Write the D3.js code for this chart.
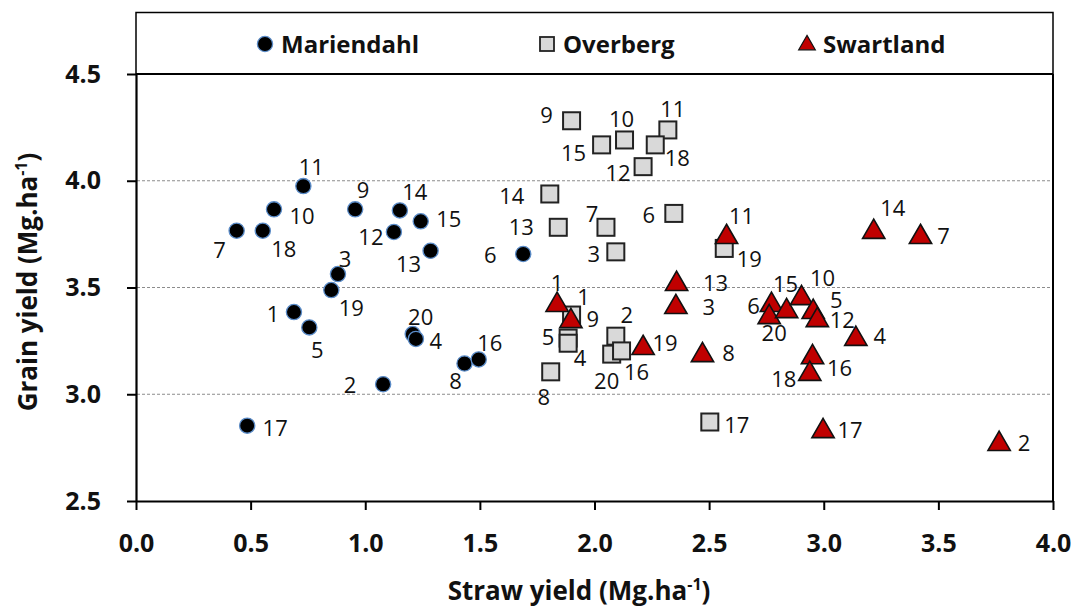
<!DOCTYPE html>
<html>
<head>
<meta charset="utf-8">
<script src="https://cdn.jsdelivr.net/npm/d3@7"></script>
<style>
  html, body { margin: 0; padding: 0; background: #fff; }
  svg { display: block; font-family: "Open Sans", "DejaVu Sans", sans-serif; }
</style>
</head>
<body>
<div id="main"></div>
<script>
// straw yield (x) and grain yield (y), Mg/ha, per cultivar id
const marIds   = [11, 10, 7, 18, 9, 14, 15, 12, 13, 3, 19, 1, 5, 20, 4, 8, 16, 2, 17, 6];
const marStraw = [0.730, 0.602, 0.439, 0.553, 0.956, 1.151, 1.242, 1.125, 1.285, 0.881, 0.852, 0.689, 0.756, 1.207, 1.221, 1.433, 1.495, 1.078, 0.485, 1.689];
const marGrain = [3.975, 3.866, 3.766, 3.766, 3.866, 3.861, 3.810, 3.760, 3.672, 3.563, 3.488, 3.385, 3.313, 3.282, 3.259, 3.144, 3.163, 3.047, 2.853, 3.657];

const ovbIds   = [9, 10, 11, 15, 18, 12, 14, 13, 7, 6, 3, 19, 1, 5, 4, 8, 2, 20, 16, 17];
const ovbStraw = [1.900, 2.131, 2.320, 2.031, 2.265, 2.212, 1.805, 1.842, 2.050, 2.346, 2.093, 2.566, 1.900, 1.885, 1.885, 1.809, 2.093, 2.075, 2.118, 2.503];
const ovbGrain = [4.281, 4.191, 4.238, 4.168, 4.168, 4.066, 3.938, 3.782, 3.782, 3.847, 3.667, 3.683, 3.371, 3.263, 3.239, 3.105, 3.272, 3.188, 3.203, 2.870];

const swtIds   = [1, 9, 19, 13, 3, 8, 11, 14, 7, 6, 20, 15, 10, 5, 12, 4, 16, 18, 17, 2];
const swtStraw = [1.837, 1.897, 2.212, 2.358, 2.355, 2.471, 2.576, 3.218, 3.422, 2.772, 2.762, 2.838, 2.903, 2.954, 2.972, 3.140, 2.951, 2.939, 2.997, 3.765];
const swtGrain = [3.418, 3.342, 3.216, 3.516, 3.408, 3.183, 3.736, 3.760, 3.736, 3.418, 3.361, 3.389, 3.450, 3.385, 3.347, 3.259, 3.173, 3.095, 2.827, 2.767];

const seriesNames = ['Mariendahl', 'Overberg', 'Swartland'];
const xTicks = [0, 0.5, 1, 1.5, 2, 2.5, 3, 3.5, 4];
const yTicks = [2.5, 3, 3.5, 4, 4.5];
const gridVals = [3, 3.5, 4];

// hand placed data-label offsets (px), same order as the ids above
const marLab = [[8,-19],[28,7],[-17,19],[21,18],[8,-19],[15,-18],[28,-2],[-23,5],[-22,13],[7,-15],[20,18],[-21,2],[8,23],[8,-17],[20,2],[-9,18],[11,-16],[-33,1],[28,2],[-33,1]];
const ovbLab = [[-25,-6],[-3,-21],[5,-21],[-28,8],[22,13],[-25,6],[-38,2],[-37,0],[-14,-13],[-25,2],[-22,2],[25,11],[12,-18],[-20,-1],[12,15],[-7,25],[11,-21],[-5,27],[15,21],[27,3]];
const swtLab = [[0,-22],[22,-2],[22,-5],[39,-1],[33,0],[26,-2],[15,-21],[19,-24],[23,-1],[-18,1],[5,16],[-1,-27],[21,-20],[23,-12],[25,0],[24,-3],[27,11],[-26,5],[27,-1],[25,-1]];

const width = 1078, height = 610;
const margin = { top: 74, right: 25, bottom: 109, left: 136 };

const sx = d3.scaleLinear().domain([0, 4]).range([margin.left, width - margin.right]);
const sy = d3.scaleLinear().domain([2.5, 4.5]).range([height - margin.bottom, margin.top]);

const svg = d3.select('#main').append('svg')
  .attr('width', width).attr('height', height)
  .attr('viewBox', [0, 0, width, height]);

const [x0, x1] = sx.range(), [y0, y1] = sy.range();

// gridlines
svg.append('g').selectAll('line').data(gridVals).join('line')
  .attr('x1', x0 + 1).attr('x2', x1 - 1)
  .attr('y1', d => sy(d)).attr('y2', d => sy(d))
  .attr('stroke', '#8c8c8c').attr('stroke-width', 1)
  .attr('stroke-dasharray', '3,2');

// legend box
svg.append('rect')
  .attr('x', x0).attr('y', 12.5).attr('width', x1 - x0).attr('height', y1 - 12.5)
  .attr('fill', 'none').attr('stroke', '#000').attr('stroke-width', 1.5);

// frame top / right
svg.append('line').attr('x1', x0).attr('x2', x1).attr('y1', y1).attr('y2', y1)
  .attr('stroke', '#000').attr('stroke-width', 2);
svg.append('line').attr('x1', x1).attr('x2', x1).attr('y1', y1).attr('y2', y0)
  .attr('stroke', '#000').attr('stroke-width', 2);

// axes
const ax = d3.axisBottom(sx).tickValues(xTicks).tickFormat(d3.format('.1f'))
  .tickSize(9).tickSizeOuter(0).tickPadding(18);
const ay = d3.axisLeft(sy).tickValues(yTicks).tickFormat(d3.format('.1f'))
  .tickSize(9).tickSizeOuter(0).tickPadding(26);

const gx = svg.append('g').attr('transform', `translate(0,${y0})`).call(ax);
const gy = svg.append('g').attr('transform', `translate(${x0},0)`).call(ay);
[gx, gy].forEach(g => {
  g.select('.domain').attr('stroke', '#000').attr('stroke-width', 2.2);
  g.selectAll('.tick line').attr('stroke', '#000').attr('stroke-width', 2);
  g.selectAll('.tick text')
    .attr('fill', '#111')
    .style('font-family', '"Open Sans", sans-serif')
    .style('font-size', '25px').style('font-weight', 700);
});
gx.selectAll('.tick text').attr('dy', '0.95em');

// axis titles
const xt = svg.append('text')
  .attr('x', 579).attr('y', 600)
  .attr('text-anchor', 'middle')
  .style('font-size', '26px').style('font-weight', 700).attr('fill', '#111');
xt.append('tspan').text('Straw yield (Mg.ha');
xt.append('tspan').attr('dy', -10).style('font-size', '16px').text('-1');
xt.append('tspan').attr('dy', 10).text(')');

const yt = svg.append('text')
  .attr('transform', 'translate(37,282) rotate(-90)')
  .attr('text-anchor', 'middle')
  .style('font-size', '26px').style('font-weight', 700).attr('fill', '#111');
yt.append('tspan').text('Grain yield (Mg.ha');
yt.append('tspan').attr('dy', -10).style('font-size', '16px').text('-1');
yt.append('tspan').attr('dy', 10).text(')');

// series
const zip = (ids, xs, ys, lab) => ids.map((id, i) => ({ id, x: xs[i], y: ys[i], dx: lab[i][0], dy: lab[i][1] }));
const mar = zip(marIds, marStraw, marGrain, marLab);
const ovb = zip(ovbIds, ovbStraw, ovbGrain, ovbLab);
const swt = zip(swtIds, swtStraw, swtGrain, swtLab);

const sqSide = 17;
const triPath = d3.symbol(d3.symbolTriangle, 215)();

const drawCircle = (sel) => sel.append('circle').attr('r', 7.6)
  .attr('fill', '#000').attr('stroke', '#5b8cc8').attr('stroke-width', 1.3);
const drawSquare = (sel) => sel.append('rect')
  .attr('x', -sqSide / 2).attr('y', -sqSide / 2).attr('width', sqSide).attr('height', sqSide)
  .attr('fill', '#d9d9d9').attr('stroke', '#222').attr('stroke-width', 2);
const drawTri = (sel) => sel.append('path').attr('d', triPath)
  .attr('fill', '#c00000').attr('stroke', '#111').attr('stroke-width', 1.6);

const markerGroup = (data, draw) => {
  const g = svg.append('g').selectAll('g').data(data).join('g')
    .attr('transform', d => `translate(${sx(d.x)},${sy(d.y)})`);
  draw(g);
};
markerGroup(mar, drawCircle);
markerGroup(ovb, drawSquare);
markerGroup(swt, drawTri);

// data labels on top
svg.append('g').selectAll('text').data([...mar, ...ovb, ...swt]).join('text')
  .attr('x', d => sx(d.x) + d.dx)
  .attr('y', d => sy(d.y) + d.dy)
  .attr('dy', '0.36em')
  .attr('text-anchor', 'middle')
  .style('font-size', '22px').attr('fill', '#111')
  .text(d => d.id);

// legend
const legendItems = [
  { name: seriesNames[0], cx: 265, draw: drawCircle },
  { name: seriesNames[1], cx: 547, draw: drawSquare },
  { name: seriesNames[2], cx: 807, draw: drawTri }
];
const lg = svg.append('g').selectAll('g').data(legendItems).join('g')
  .attr('transform', d => `translate(${d.cx},44)`);
lg.each(function (d) {
  const g = d3.select(this);
  if (d.draw === drawSquare) {
    g.append('rect').attr('x', -7).attr('y', -7).attr('width', 14).attr('height', 14)
      .attr('fill', '#d9d9d9').attr('stroke', '#222').attr('stroke-width', 1.8);
  } else if (d.draw === drawTri) {
    g.append('path').attr('d', d3.symbol(d3.symbolTriangle, 120)()).attr('transform', 'translate(0,1)')
      .attr('fill', '#c00000').attr('stroke', '#111').attr('stroke-width', 1.2);
  } else {
    d.draw(g);
  }
});
lg.append('text')
  .attr('x', 16).attr('dy', '0.36em')
  .style('font-size', '24px').style('font-weight', 700).attr('fill', '#111')
  .text(d => d.name);
</script>
</body>
</html>
